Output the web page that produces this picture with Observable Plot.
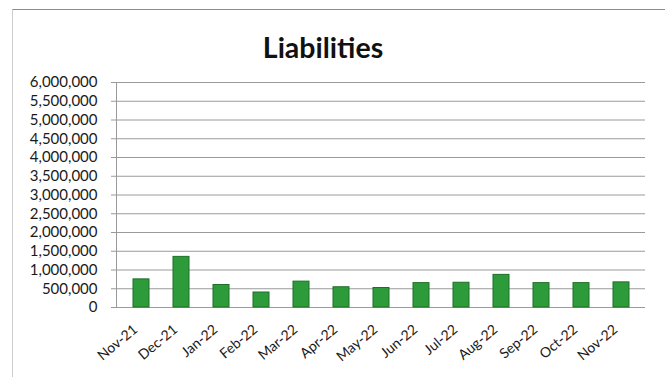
<!DOCTYPE html>
<html>
<head>
<meta charset="utf-8">
<script src="https://cdn.jsdelivr.net/npm/d3@7"></script>
<script src="https://cdn.jsdelivr.net/npm/@observablehq/plot@0.6"></script>
<style>
  html, body { margin: 0; padding: 0; background: #fff; }
  #wrap { position: relative; width: 665px; height: 377px; overflow: hidden; background: #fff; }
  #border { position: absolute; left: 12px; top: 9px; width: 660px; height: 380px;
            border-top: 1.5px solid #8a8a8a; border-left: 1px solid #cfcfcf; }
  #title { position: absolute; left: 0; width: 646px; top: 30px; text-align: center;
           font-family: Lato, sans-serif; font-weight: 700; font-size: 28.5px; color: #111; line-height: 34px; }
  #chart { position: absolute; left: 0; top: 0; }
</style>
</head>
<body>
<div id="wrap">
  <div id="border"></div>
  <div id="title">Liabilities</div>
  <div id="chart"></div>
</div>
<script>
const months = ["Nov-21","Dec-21","Jan-22","Feb-22","Mar-22","Apr-22","May-22","Jun-22","Jul-22","Aug-22","Sep-22","Oct-22","Nov-22"];
const values = [750000,1350000,600000,400000,690000,540000,520000,650000,660000,870000,650000,650000,670000];
const yTicks = [0,500000,1000000,1500000,2000000,2500000,3000000,3500000,4000000,4500000,5000000,5500000,6000000];

const data = months.map((m, i) => ({month: m, value: values[i]}));

const chart = Plot.plot({
  width: 665,
  height: 377,
  marginTop: 82,
  marginBottom: 70,
  marginLeft: 116,
  marginRight: 20,
  style: {background: "transparent", fontFamily: "Lato, sans-serif"},
  x: {domain: months, paddingInner: 0.6, paddingOuter: 0.3, label: null},
  y: {domain: [0, 6000000], label: null},
  marks: [
    Plot.ruleY(yTicks, {stroke: "#9a9a9a", strokeWidth: 1}),
    Plot.frame({anchor: "left", stroke: "#9a9a9a"}),
    Plot.barY(data, {x: "month", y: "value", fill: "#2e9b3b", stroke: "#1d6f29", strokeWidth: 1}),
    Plot.axisY({ticks: yTicks, tickFormat: d3.format(","), tickSize: 5, tickPadding: 14,
                fontSize: 15, fill: "#1a1a1a", stroke: "#9a9a9a", label: null}),
    Plot.axisX({tickSize: 0, tickRotate: -40, tickPadding: 20, dx: -6, fontSize: 14, fill: "#1a1a1a", label: null})
  ]
});
document.getElementById("chart").appendChild(chart);
</script>
</body>
</html>
